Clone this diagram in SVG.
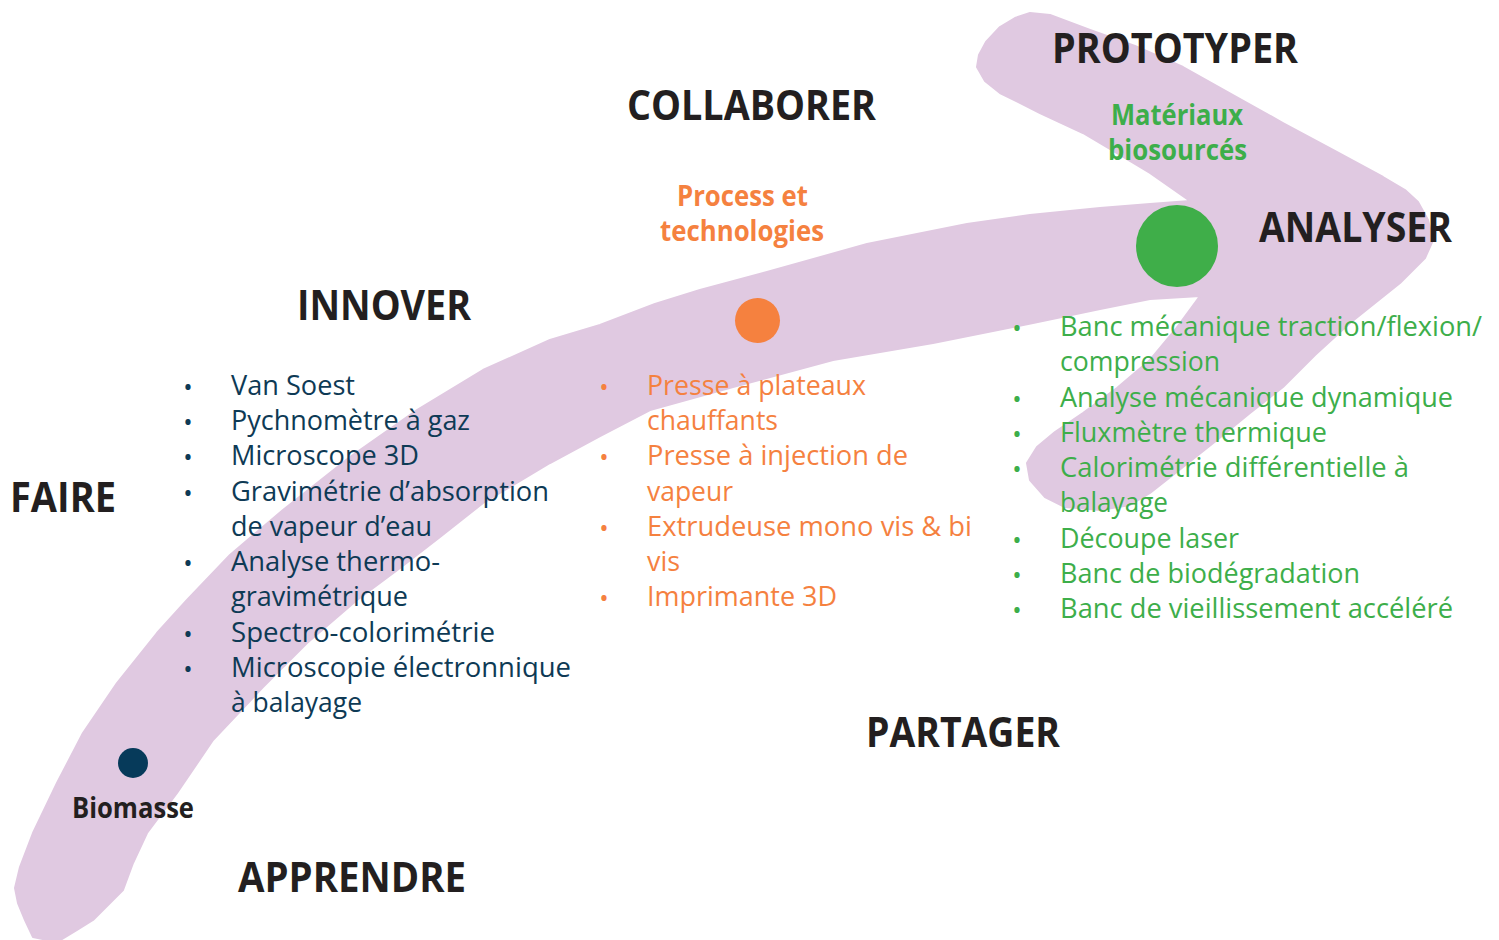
<svg xmlns="http://www.w3.org/2000/svg" width="1499" height="940" viewBox="0 0 1499 940">
<style>
.h{font-family:"Open Sans","Liberation Sans",sans-serif;font-weight:700;font-size:42px;fill:#231f20}
.s{font-family:"Open Sans","Liberation Sans",sans-serif;font-weight:700;font-size:28px}
.t{font-family:"Open Sans","Liberation Sans",sans-serif;font-weight:400;font-size:28px}
.b{font-family:"Open Sans","Liberation Sans",sans-serif;font-size:25px;text-anchor:middle}
.navy{fill:#0e3a55}
.orange{fill:#f5813f}
.green{fill:#3dae4a}
</style>
<rect width="1499" height="940" fill="#ffffff"/>
<g id="arrow">
<path fill="#e0c9e1" stroke="#e0c9e1" stroke-width="2" stroke-linejoin="round" d="M57,942 L33,937 L25,920 L18,903 L15,888 L20,867 L33,833 L57,783 L83,733 L117,683 L157,633 L187,600 L230,555 L283,510 L350,457 L417,410 L483,370 L550,340 L600,325 L655,304 L700,290 L767,272 L867,244 L967,224 L1030,215 L1100,208 L1150,204 L1190,201 L1150,173 L1115,152 L1083,133 L1040,113 L1000,93 L985,81 L977,67 L979,55 L986,42 L1000,27 L1015,18 L1030,13 L1050,15 L1090,30 L1135,46 L1183,67 L1233,95 L1283,123 L1333,150 L1383,177 L1405,190 L1418,202 L1428,220 L1433,240 L1425,258 L1400,283 L1350,323 L1315,355 L1283,387 L1250,413 L1217,440 L1183,467 L1150,493 L1130,505 L1100,510 L1065,507 L1045,497 L1030,480 L1027,463 L1037,447 L1055,432 L1083,413 L1117,388 L1150,360 L1175,330 L1200,296 L1150,299 L1100,309 L1033,323 L933,343 L833,360 L733,387 L650,410 L600,436 L550,463 L483,503 L440,537 L400,568 L357,600 L307,643 L263,687 L213,740 L177,793 L147,833 L133,863 L123,890 L110,903 L93,920 L77,930 L57,942 Z"/>
</g>
<g id="headings">
<text class="h" x="1052" y="63" textLength="246" lengthAdjust="spacingAndGlyphs">PROTOTYPER</text>
<text class="h" x="627" y="120" textLength="249" lengthAdjust="spacingAndGlyphs">COLLABORER</text>
<text class="h" x="1259" y="242" textLength="193" lengthAdjust="spacingAndGlyphs">ANALYSER</text>
<text class="h" x="297" y="320" textLength="174" lengthAdjust="spacingAndGlyphs">INNOVER</text>
<text class="h" x="10" y="512" textLength="106" lengthAdjust="spacingAndGlyphs">FAIRE</text>
<text class="h" x="866" y="747" textLength="194" lengthAdjust="spacingAndGlyphs">PARTAGER</text>
<text class="h" x="238" y="892" textLength="228" lengthAdjust="spacingAndGlyphs">APPRENDRE</text>
</g>
<g id="node-biomasse">
<circle cx="133" cy="763" r="15" fill="#063a5a"/>
<text class="s" x="72" y="818" font-size="26" fill="#231f20" textLength="122" lengthAdjust="spacingAndGlyphs">Biomasse</text>
</g>
<g id="node-process">
<circle cx="757.5" cy="320.5" r="22.5" fill="#f5813f"/>
<text class="s orange" x="677" y="206" textLength="131" lengthAdjust="spacingAndGlyphs">Process et</text>
<text class="s orange" x="660" y="241" textLength="164" lengthAdjust="spacingAndGlyphs">technologies</text>
</g>
<g id="node-materiaux">
<circle cx="1177" cy="246" r="41" fill="#3fae49"/>
<text class="s green" x="1111" y="125" textLength="132" lengthAdjust="spacingAndGlyphs">Matériaux</text>
<text class="s green" x="1108" y="160" textLength="139" lengthAdjust="spacingAndGlyphs">biosourcés</text>
</g>
<g id="list-navy" class="navy">
<text class="b" x="188" y="396">•</text>
<text class="b" x="188" y="431">•</text>
<text class="b" x="188" y="466">•</text>
<text class="b" x="188" y="502">•</text>
<text class="b" x="188" y="572">•</text>
<text class="b" x="188" y="643">•</text>
<text class="b" x="188" y="678">•</text>
<text class="t" x="231" y="395" textLength="124" lengthAdjust="spacingAndGlyphs">Van Soest</text>
<text class="t" x="231" y="430" textLength="239" lengthAdjust="spacingAndGlyphs">Pychnomètre à gaz</text>
<text class="t" x="231" y="465" textLength="188" lengthAdjust="spacingAndGlyphs">Microscope 3D</text>
<text class="t" x="231" y="501" textLength="318" lengthAdjust="spacingAndGlyphs">Gravimétrie d’absorption</text>
<text class="t" x="231" y="536" textLength="201" lengthAdjust="spacingAndGlyphs">de vapeur d’eau</text>
<text class="t" x="231" y="571" textLength="209" lengthAdjust="spacingAndGlyphs">Analyse thermo-</text>
<text class="t" x="231" y="606" textLength="177" lengthAdjust="spacingAndGlyphs">gravimétrique</text>
<text class="t" x="231" y="642" textLength="264" lengthAdjust="spacingAndGlyphs">Spectro-colorimétrie</text>
<text class="t" x="231" y="677" textLength="340" lengthAdjust="spacingAndGlyphs">Microscopie électronnique</text>
<text class="t" x="231" y="712" textLength="131" lengthAdjust="spacingAndGlyphs">à balayage</text>
</g>
<g id="list-orange" class="orange">
<text class="b" x="604" y="396">•</text>
<text class="b" x="604" y="466">•</text>
<text class="b" x="604" y="537">•</text>
<text class="b" x="604" y="607">•</text>
<text class="t" x="647" y="395" textLength="219" lengthAdjust="spacingAndGlyphs">Presse à plateaux</text>
<text class="t" x="647" y="430" textLength="131" lengthAdjust="spacingAndGlyphs">chauffants</text>
<text class="t" x="647" y="465" textLength="261" lengthAdjust="spacingAndGlyphs">Presse à injection de</text>
<text class="t" x="647" y="501" textLength="86" lengthAdjust="spacingAndGlyphs">vapeur</text>
<text class="t" x="647" y="536" textLength="325" lengthAdjust="spacingAndGlyphs">Extrudeuse mono vis &amp; bi</text>
<text class="t" x="647" y="571" textLength="33" lengthAdjust="spacingAndGlyphs">vis</text>
<text class="t" x="647" y="606" textLength="190" lengthAdjust="spacingAndGlyphs">Imprimante 3D</text>
</g>
<g id="list-green" class="green">
<text class="b" x="1017" y="337">•</text>
<text class="b" x="1017" y="408">•</text>
<text class="b" x="1017" y="443">•</text>
<text class="b" x="1017" y="478">•</text>
<text class="b" x="1017" y="549">•</text>
<text class="b" x="1017" y="584">•</text>
<text class="b" x="1017" y="619">•</text>
<text class="t" x="1060" y="336" textLength="422" lengthAdjust="spacingAndGlyphs">Banc mécanique traction/flexion/</text>
<text class="t" x="1060" y="371" textLength="160" lengthAdjust="spacingAndGlyphs">compression</text>
<text class="t" x="1060" y="407" textLength="393" lengthAdjust="spacingAndGlyphs">Analyse mécanique dynamique</text>
<text class="t" x="1060" y="442" textLength="267" lengthAdjust="spacingAndGlyphs">Fluxmètre thermique</text>
<text class="t" x="1060" y="477" textLength="349" lengthAdjust="spacingAndGlyphs">Calorimétrie différentielle à</text>
<text class="t" x="1060" y="512" textLength="108" lengthAdjust="spacingAndGlyphs">balayage</text>
<text class="t" x="1060" y="548" textLength="179" lengthAdjust="spacingAndGlyphs">Découpe laser</text>
<text class="t" x="1060" y="583" textLength="300" lengthAdjust="spacingAndGlyphs">Banc de biodégradation</text>
<text class="t" x="1060" y="618" textLength="393" lengthAdjust="spacingAndGlyphs">Banc de vieillissement accéléré</text>
</g>
</svg>
